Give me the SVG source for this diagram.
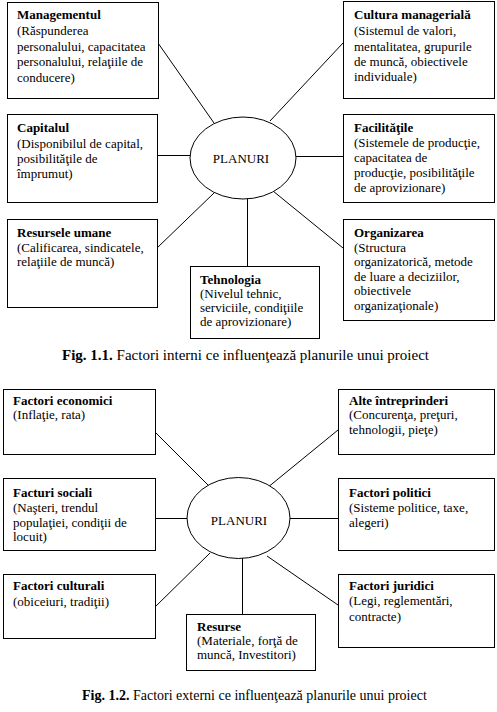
<svg xmlns="http://www.w3.org/2000/svg" width="497" height="712" viewBox="0 0 497 712">
<style>
.box{fill:#fff;stroke:#000;stroke-width:1}
.ell{fill:#fff;stroke:#000;stroke-width:1}
.con line{stroke:#000;stroke-width:1}
text{font-family:"Liberation Serif","Times New Roman",serif;font-size:13px;fill:#000}
.t{font-weight:bold}
.c{text-anchor:middle}
.cap1{font-size:15px}
.cap2{font-size:14px}
</style>
<rect width="497" height="712" fill="#fff"/>
<g id="connectors1" class="con">
<line x1="158" y1="43" x2="214" y2="123"/>
<line x1="343" y1="43" x2="270" y2="121"/>
<line x1="157" y1="155.5" x2="196" y2="155.5"/>
<line x1="290" y1="156.5" x2="343" y2="156.5"/>
<line x1="157" y1="248" x2="214" y2="193"/>
<line x1="343" y1="248" x2="273" y2="191"/>
<line x1="247.5" y1="195" x2="247.5" y2="266"/>
</g>
<g id="connectors2" class="con">
<line x1="155" y1="432" x2="210" y2="487"/>
<line x1="338" y1="430" x2="267" y2="488"/>
<line x1="155" y1="518.5" x2="192" y2="518.5"/>
<line x1="285" y1="518.5" x2="338" y2="518.5"/>
<line x1="155" y1="607" x2="210" y2="553"/>
<line x1="338" y1="605" x2="267" y2="556"/>
<line x1="242.5" y1="555" x2="242.5" y2="614"/>
</g>
<g id="planuri1"><ellipse class="ell" cx="243" cy="158" rx="53" ry="41"/><text class="c" x="241" y="163">PLANURI</text></g>
<g id="management"><rect class="box" x="7.5" y="2.5" width="151" height="96"/>
<text x="17" y="19"><tspan class="t">Managementul</tspan><tspan x="17" y="35">(Răspunderea</tspan><tspan x="17" y="51">personalului, capacitatea</tspan><tspan x="17" y="66">personalului, relaţiile de</tspan><tspan x="17" y="82">conducere)</tspan></text></g>
<g id="cultura"><rect class="box" x="343.5" y="1.5" width="151" height="97"/>
<text x="354" y="19"><tspan class="t">Cultura managerială</tspan><tspan x="354" y="35">(Sistemul de valori,</tspan><tspan x="354" y="51">mentalitatea, grupurile</tspan><tspan x="354" y="66">de muncă, obiectivele</tspan><tspan x="354" y="81">individuale)</tspan></text></g>
<g id="capitalul"><rect class="box" x="7.5" y="114.5" width="150" height="88"/>
<text x="17" y="132"><tspan class="t">Capitalul</tspan><tspan x="17" y="148">(Disponibilul de capital,</tspan><tspan x="17" y="163">posibilităţile de</tspan><tspan x="17" y="178">împrumut)</tspan></text></g>
<g id="facilitatile"><rect class="box" x="343.5" y="114.5" width="151" height="88"/>
<text x="354" y="132"><tspan class="t">Facilităţile</tspan><tspan x="354" y="147">(Sistemele de producţie,</tspan><tspan x="354" y="162">capacitatea de</tspan><tspan x="354" y="177">producţie, posibilităţile</tspan><tspan x="354" y="192">de aprovizionare)</tspan></text></g>
<g id="resursele"><rect class="box" x="7.5" y="219.5" width="150" height="88"/>
<text x="17" y="237"><tspan class="t">Resursele umane</tspan><tspan x="17" y="252">(Calificarea, sindicatele,</tspan><tspan x="17" y="266">relaţiile de muncă)</tspan></text></g>
<g id="tehnologia"><rect class="box" x="190.5" y="266.5" width="129" height="72"/>
<text x="200" y="284"><tspan class="t">Tehnologia</tspan><tspan x="200" y="298">(Nivelul tehnic,</tspan><tspan x="200" y="312">serviciile, condiţiile</tspan><tspan x="200" y="326">de aprovizionare)</tspan></text></g>
<g id="organizarea"><rect class="box" x="343.5" y="219.5" width="151" height="101"/>
<text x="354" y="237"><tspan class="t">Organizarea</tspan><tspan x="354" y="252">(Structura</tspan><tspan x="354" y="266">organizatorică, metode</tspan><tspan x="354" y="281">de luare a deciziilor,</tspan><tspan x="354" y="295">obiectivele</tspan><tspan x="354" y="310">organizaţionale)</tspan></text></g>
<text class="cap1" x="62" y="360"><tspan class="t">Fig. 1.1.</tspan> Factori interni ce influenţează planurile unui proiect</text>

<g id="planuri2"><ellipse class="ell" cx="238.5" cy="518" rx="51.5" ry="40.5"/><text class="c" x="239" y="525">PLANURI</text></g>
<g id="economici"><rect class="box" x="3.5" y="389.5" width="152" height="65"/>
<text x="13" y="405"><tspan class="t">Factori economici</tspan><tspan x="13" y="419">(Inflaţie, rata)</tspan></text></g>
<g id="alte"><rect class="box" x="338.5" y="389.5" width="156" height="65"/>
<text x="349" y="405"><tspan class="t">Alte întreprinderi</tspan><tspan x="349" y="419">(Concurenţa, preţuri,</tspan><tspan x="349" y="434">tehnologii, pieţe)</tspan></text></g>
<g id="sociali"><rect class="box" x="3.5" y="478.5" width="152" height="72"/>
<text x="13" y="497"><tspan class="t">Facturi sociali</tspan><tspan x="13" y="512">(Naşteri, trendul</tspan><tspan x="13" y="527">populaţiei, condiţii de</tspan><tspan x="13" y="541">locuit)</tspan></text></g>
<g id="politici"><rect class="box" x="338.5" y="478.5" width="156" height="72"/>
<text x="349" y="497"><tspan class="t">Factori politici</tspan><tspan x="349" y="512">(Sisteme politice, taxe,</tspan><tspan x="349" y="527">alegeri)</tspan></text></g>
<g id="culturali"><rect class="box" x="3.5" y="574.5" width="152" height="64"/>
<text x="13" y="590"><tspan class="t">Factori culturali</tspan><tspan x="13" y="606">(obiceiuri, tradiţii)</tspan></text></g>
<g id="juridici"><rect class="box" x="338.5" y="574.5" width="156" height="73"/>
<text x="349" y="590"><tspan class="t">Factori juridici</tspan><tspan x="349" y="605">(Legi, reglementări,</tspan><tspan x="349" y="621">contracte)</tspan></text></g>
<g id="resurse"><rect class="box" x="186.5" y="614.5" width="129" height="56"/>
<text x="197" y="631"><tspan class="t">Resurse</tspan><tspan x="197" y="645">(Materiale, forţă de</tspan><tspan x="197" y="659">muncă, Investitori)</tspan></text></g>
<text class="cap2" x="82" y="700"><tspan class="t">Fig. 1.2.</tspan> Factori externi ce influenţează planurile unui proiect</text>
</svg>
